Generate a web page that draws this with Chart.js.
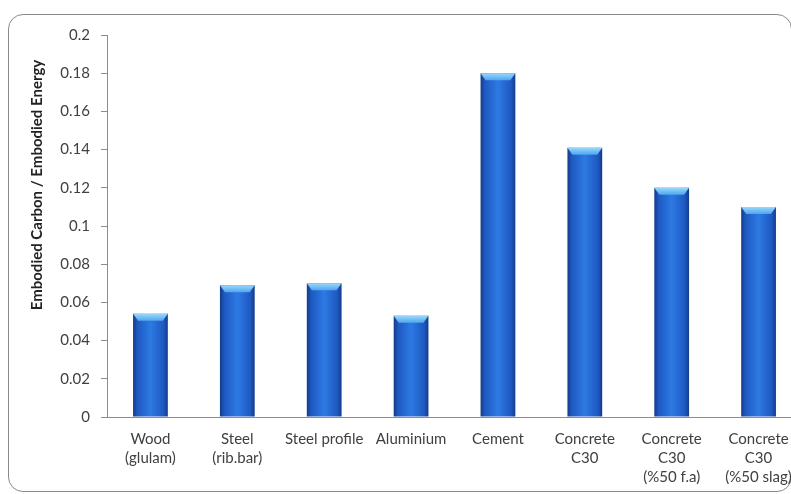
<!DOCTYPE html>
<html>
<head>
<meta charset="utf-8">
<script src="https://cdn.jsdelivr.net/npm/chart.js@4.4.1/dist/chart.umd.min.js"></script>
<style>
	html, body { margin: 0; padding: 0; background: #fff; overflow: hidden; }
	#wrap { position: relative; width: 805px; height: 494px; }
	#frame {
		position: absolute; left: 8px; top: 14px; width: 782px; height: 476px;
		border: 1px solid #8a8a8a; border-radius: 15px;
	}
	canvas { position: absolute; left: 0; top: 0; }
</style>
</head>
<body>
<div id="wrap">
	<div id="frame"></div>
	<canvas id="carbonChart" width="805" height="494"></canvas>
</div>
<script>
// 재료별 값
const materials = [
	['Wood', '(glulam)'],
	['Steel', '(rib.bar)'],
	'Steel profile',
	'Aluminium',
	'Cement',
	['Concrete', 'C30'],
	['Concrete', 'C30', '(%50 f.a)'],
	['Concrete', 'C30', '(%50 slag)']
];
const ratios = [0.054, 0.069, 0.070, 0.053, 0.180, 0.141, 0.120, 0.110];
const yTicks = [0, 0.02, 0.04, 0.06, 0.08, 0.1, 0.12, 0.14, 0.16, 0.18, 0.2];
const yTitle = 'Embodied Carbon / Embodied Energy';

const textColor = '#404040';
const axisColor = '#8c8c8c';
const fontFamily = 'Lato, "Liberation Sans", sans-serif';
const barPct = 0.4;

// 막대 좌우 음영 그라디언트 (x축 위치로 계산)
function barFill(context) {
	const chart = context.chart;
	const xScale = chart.scales.x;
	if (!chart.chartArea || !xScale) return '#2a6fd6';
	const cx = xScale.getPixelForValue(context.dataIndex);
	const half = (xScale.width / materials.length) * barPct / 2;
	if (!isFinite(cx) || !isFinite(half)) return '#2a6fd6';
	const g = chart.ctx.createLinearGradient(cx - half, 0, cx + half, 0);
	g.addColorStop(0, '#143a88');
	g.addColorStop(0.12, '#1e58c0');
	g.addColorStop(0.5, '#2d7ae4');
	g.addColorStop(0.88, '#1e58c0');
	g.addColorStop(1, '#143a88');
	return g;
}

// 막대 윗부분 밝은 경사면
const bevelPlugin = {
	id: 'bevel',
	afterDatasetsDraw(chart) {
		const ctx = chart.ctx;
		chart.getDatasetMeta(0).data.forEach(bar => {
			const half = bar.width / 2;
			const left = bar.x - half;
			const right = bar.x + half;
			const top = bar.y;
			const h = 7;
			ctx.save();
			const g = ctx.createLinearGradient(0, top, 0, top + h);
			g.addColorStop(0, '#9ad8fc');
			g.addColorStop(1, '#4fa6ee');
			ctx.fillStyle = g;
			ctx.beginPath();
			ctx.moveTo(left, top);
			ctx.lineTo(right, top);
			ctx.lineTo(right - 5, top + h);
			ctx.lineTo(left + 5, top + h);
			ctx.closePath();
			ctx.fill();
			ctx.restore();
		});
	}
};

// y축 제목 (세로 글자)
const yTitlePlugin = {
	id: 'yTitle',
	afterDraw(chart) {
		const ctx = chart.ctx;
		ctx.save();
		ctx.translate(37, 185);
		ctx.rotate(-Math.PI / 2);
		ctx.font = 'bold 15px ' + fontFamily;
		ctx.fillStyle = '#222';
		ctx.textAlign = 'center';
		ctx.textBaseline = 'middle';
		ctx.fillText(yTitle, 0, 0);
		ctx.restore();
	}
};

const ctx = document.getElementById('carbonChart').getContext('2d');
new Chart(ctx, {
	type: 'bar',
	data: {
		labels: materials,
		datasets: [
			{
				data: ratios,
				backgroundColor: barFill,
				borderWidth: 0,
				categoryPercentage: 1,
				barPercentage: barPct
			}
		]
	},
	options: {
		responsive: false,
		animation: false,
		layout: { padding: { left: 0, top: 35, right: 3, bottom: 0 } },
		plugins: {
			legend: { display: false },
			tooltip: { enabled: false }
		},
		scales: {
			x: {
				grid: { display: false },
				border: { display: true, color: axisColor, width: 1 },
				ticks: {
					color: textColor,
					maxRotation: 0,
					autoSkip: false,
					padding: 5,
					font: { family: fontFamily, size: 15, lineHeight: 1.27 }
				},
				afterFit(scale) { scale.height = 77; }
			},
			y: {
				min: 0,
				max: 0.2,
				afterBuildTicks(scale) {
					scale.ticks = yTicks.map(v => ({ value: v }));
				},
				grid: {
					drawOnChartArea: false,
					drawTicks: true,
					tickLength: 6,
					color: axisColor
				},
				border: { display: true, color: axisColor, width: 1 },
				ticks: {
					color: textColor,
					padding: 11,
					font: { family: fontFamily, size: 15 },
					callback: v => String(Math.round(v * 100) / 100)
				},
				afterFit(scale) { scale.width = 107; }
			}
		}
	},
	plugins: [bevelPlugin, yTitlePlugin]
});
</script>
</body>
</html>
